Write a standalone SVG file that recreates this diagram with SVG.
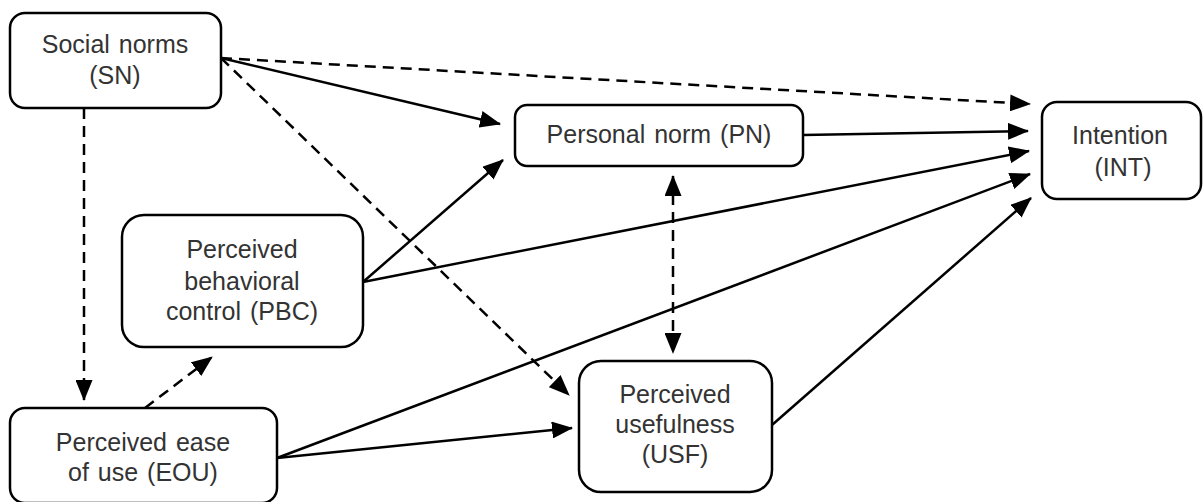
<svg xmlns="http://www.w3.org/2000/svg" width="1203" height="502" viewBox="0 0 1203 502">
<style>
.box{fill:#fff;stroke:#000;stroke-width:2.5}
.t{font-family:"Liberation Sans",Arial,sans-serif;font-size:25px;fill:#333;text-anchor:middle;word-spacing:2px}
.c{fill:none;stroke:#000;stroke-width:2.5}
.d{stroke-dasharray:11,7}
</style>
<defs>
<marker id="ah" markerWidth="21" markerHeight="17" refX="20" refY="8.5" orient="auto" markerUnits="userSpaceOnUse">
<path d="M0,0 L21,8.5 L0,17 Z" fill="#000"/>
</marker>
<marker id="as" markerWidth="21" markerHeight="17" refX="1" refY="8.5" orient="auto" markerUnits="userSpaceOnUse">
<path d="M21,0 L0,8.5 L21,17 Z" fill="#000"/>
</marker>
</defs>
<rect width="1203" height="502" fill="#fff"/>
<g id="connectors">
<path class="c d" d="M84,108 L84,400" marker-end="url(#ah)"/>
<path class="c d" d="M145,408 L212,357" marker-end="url(#ah)"/>
<path class="c" d="M221,58 L500,124" marker-end="url(#ah)"/>
<path class="c d" d="M221,58 L1030,104" marker-end="url(#ah)"/>
<path class="c d" d="M221,58 L569,395" marker-end="url(#ah)"/>
<path class="c" d="M803,135 L1028,131" marker-end="url(#ah)"/>
<path class="c d" d="M673,176 L673,353" marker-start="url(#as)" marker-end="url(#ah)"/>
<path class="c" d="M363,282 L503,160" marker-end="url(#ah)"/>
<path class="c" d="M363,282 L1029,151" marker-end="url(#ah)"/>
<path class="c" d="M277,458 L1030,174" marker-end="url(#ah)"/>
<path class="c" d="M277,458 L572,428" marker-end="url(#ah)"/>
<path class="c" d="M772,425 L1031,198" marker-end="url(#ah)"/>
</g>
<g id="SN">
<rect class="box" x="10" y="13" width="211" height="95" rx="15"/>
<text class="t" x="115" y="53">Social norms</text>
<text class="t" x="115" y="84">(SN)</text>
</g>
<g id="PN">
<rect class="box" x="515" y="105" width="288" height="61" rx="12"/>
<text class="t" x="659" y="143">Personal norm (PN)</text>
</g>
<g id="INT">
<rect class="box" x="1042" y="102" width="159" height="97" rx="15"/>
<text class="t" x="1120" y="144">Intention</text>
<text class="t" x="1123" y="176">(INT)</text>
</g>
<g id="PBC">
<rect class="box" x="122" y="215" width="241" height="132" rx="22"/>
<text class="t" x="242" y="258">Perceived</text>
<text class="t" x="242" y="290">behavioral</text>
<text class="t" x="242" y="320">control (PBC)</text>
</g>
<g id="EOU">
<rect class="box" x="10" y="408" width="267" height="95" rx="15"/>
<text class="t" x="143" y="451">Perceived ease</text>
<text class="t" x="143" y="481">of use (EOU)</text>
</g>
<g id="USF">
<rect class="box" x="579" y="361" width="193" height="131" rx="22"/>
<text class="t" x="675" y="403">Perceived</text>
<text class="t" x="675" y="433">usefulness</text>
<text class="t" x="675" y="463">(USF)</text>
</g>
</svg>
